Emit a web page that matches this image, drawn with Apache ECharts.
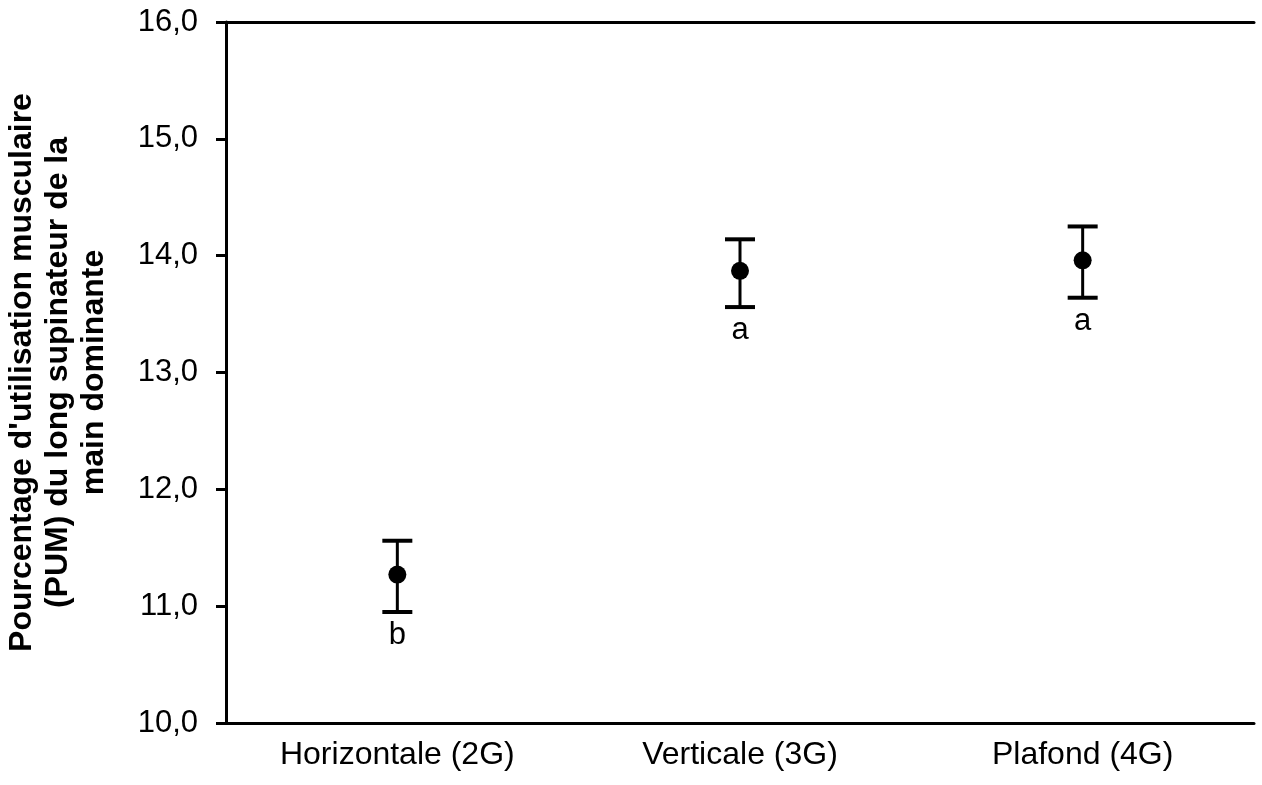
<!DOCTYPE html>
<html>
<head>
<meta charset="utf-8">
<script src="https://cdn.jsdelivr.net/npm/echarts@6/dist/echarts.min.js"></script>
<style>
  html, body { margin: 0; padding: 0; background: #fff; }
  #main { width: 1262px; height: 785px; }
</style>
</head>
<body>
<div id="main"></div>
<script>
// data
var categories = ['Horizontale (2G)', 'Verticale (3G)', 'Plafond (4G)'];
var means = [11.27, 13.87, 13.96];
var lows = [10.95, 13.56, 13.64];
var highs = [11.56, 14.14, 14.25];
var letters = ['b', 'a', 'a'];
var yTicks = [10, 11, 12, 13, 14, 15, 16];

var font = '"Liberation Sans", Arial, Helvetica, sans-serif';
var myChart = echarts.init(document.getElementById('main'));

var errData = categories.map(function (c, i) {
  return [i, lows[i], highs[i], letters[i]];
});

var option = {
  animation: false,
  grid: { left: 226, right: 8, top: 22, bottom: 62, containLabel: false, outerBoundsMode: 'none' },
  xAxis: [
    {
      type: 'category',
      data: categories,
      boundaryGap: true,
      axisLine: { lineStyle: { color: '#000', width: 3 } },
      axisTick: { alignWithLabel: true, length: 9, lineStyle: { color: '#000', width: 3 } },
      axisLabel: { color: '#000', fontSize: 32, fontFamily: font, margin: 16 }
    },
    {
      // top border of the frame
      type: 'category',
      data: categories,
      position: 'top',
      axisLine: { lineStyle: { color: '#000', width: 3 } },
      axisTick: { show: false },
      axisLabel: { show: false }
    }
  ],
  yAxis: {
    type: 'value',
    min: yTicks[0],
    max: yTicks[yTicks.length - 1],
    interval: 1,
    splitLine: { show: false },
    axisLine: { show: true, lineStyle: { color: '#000', width: 3 } },
    axisTick: { show: true, length: 10, lineStyle: { color: '#000', width: 3 } },
    axisLabel: {
      color: '#000', fontSize: 31, fontFamily: font, margin: 28,
      formatter: function (v) { return v.toFixed(1).replace('.', ','); }
    },
    name: "Pourcentage d'utilisation musculaire\n(PUM) du long supinateur de la\nmain dominante",
    nameLocation: 'middle',
    nameRotate: 90,
    nameGap: 114,
    nameTextStyle: {
      color: '#000', fontSize: 32, fontWeight: 'bold', fontFamily: font,
      lineHeight: 36, align: 'center'
    }
  },
  series: [
    {
      type: 'custom',
      data: errData,
      renderItem: function (params, api) {
        var top = api.coord([api.value(0), api.value(2)]);
        var bot = api.coord([api.value(0), api.value(1)]);
        var half = 15;
        var style = { stroke: '#000', lineWidth: 3 };
        var capStyle = { stroke: '#000', lineWidth: 4 };
        return {
          type: 'group',
          children: [
            { type: 'line', shape: { x1: top[0], y1: top[1], x2: bot[0], y2: bot[1] }, style: style },
            { type: 'line', shape: { x1: top[0] - half, y1: top[1], x2: top[0] + half, y2: top[1] }, style: capStyle },
            { type: 'line', shape: { x1: bot[0] - half, y1: bot[1], x2: bot[0] + half, y2: bot[1] }, style: capStyle },
            {
              type: 'text',
              style: {
                text: letters[params.dataIndex],
                x: bot[0], y: bot[1] + 8,
                align: 'center', verticalAlign: 'top',
                fill: '#000', font: '31px ' + font
              }
            }
          ]
        };
      },
      z: 2
    },
    {
      type: 'scatter',
      data: means,
      symbol: 'circle',
      symbolSize: 18,
      itemStyle: { color: '#000', opacity: 1 },
      z: 3
    }
  ]
};

myChart.setOption(option);
</script>
</body>
</html>
